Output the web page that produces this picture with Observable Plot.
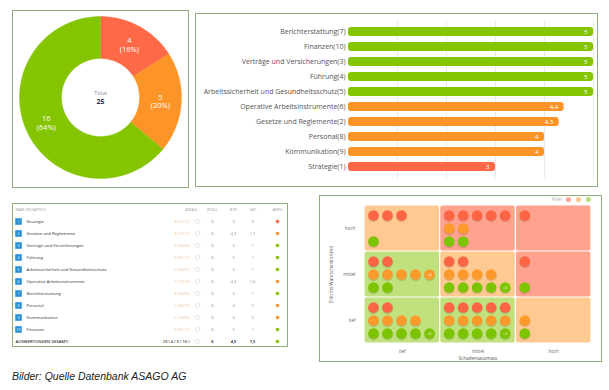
<!DOCTYPE html>
<html><head><meta charset="utf-8">
<script src="https://cdn.jsdelivr.net/npm/d3@7"></script>
<script src="https://cdn.jsdelivr.net/npm/@observablehq/plot@0.6"></script>
<style>
body{margin:0;background:#fff;}
#root{position:relative;width:609px;height:390px;overflow:hidden;font-family:"Open Sans",sans-serif;background:#fff;}
.panel{position:absolute;box-sizing:border-box;border:1px solid #8fae78;background:#fff;}
.chart{position:absolute;}
.chart svg{display:block;}
#caption{position:absolute;left:12px;top:370px;font:italic 10.5px "Liberation Sans",Arial,sans-serif;color:#222;white-space:nowrap;}
</style></head><body><div id="root"></div>
<script>
// ---------- DATA ----------
// Donut (Ampel-Verteilung)
const donutLabels = ["rot", "orange", "grün"];
const donutValues = [4, 5, 16];
const donutColors = ["#fe6a48", "#fd9427", "#84c500"];
const donutCenterTitle = "Total";

// Balken (Ø IST je Kapitel)
const barLabels = ["Berichterstattung(7)", "Finanzen(10)", "Verträge und Versicherungen(3)", "Führung(4)",
  "Arbeitssicherheit und Gesundheitsschutz(5)", "Operative Arbeitsinstrumente(6)", "Gesetze und Reglemente(2)",
  "Personal(8)", "Kommunikation(9)", "Strategie(1)"];
const barValues = [5, 5, 5, 5, 5, 4.4, 4.3, 4, 4, 3];
const barStatus = ["grün", "grün", "grün", "grün", "grün", "orange", "orange", "orange", "orange", "rot"];
const barGridTicks = [1, 2, 3, 4, 5];

// Tabelle
const tableHeaders = ["NAME DES KAPITELS", "ANZAHL", "Ø SOLL", "Ø IST", "GAP", "AMPEL"];
const chapters = ["Strategie", "Gesetze und Reglemente", "Verträge und Versicherungen", "Führung",
  "Arbeitssicherheit und Gesundheitsschutz", "Operative Arbeitsinstrumente", "Berichterstattung",
  "Personal", "Kommunikation", "Finanzen"];
const anzahl = [3, 3, 2, 2, 1, 7, 3, 1, 1, 2];
const anzahlRot = [1, 1, 0, 0, 0, 1, 0, 0, 1, 0];
const anzahlOrange = [1, 1, 0, 1, 0, 1, 0, 0, 0, 1];
const anzahlGruen = [1, 1, 2, 1, 1, 5, 3, 1, 0, 1];
const soll = [6, 6, 6, 6, 6, 6, 6, 6, 6, 6];
const ist = [3, 4.3, 5, 5, 5, 4.4, 5, 4, 4, 5];
const gap = [3, 1.7, 1, 1, 1, 1.6, 1, 2, 2, 1];
const ampel = ["rot", "orange", "grün", "grün", "grün", "orange", "grün", "orange", "orange", "grün"];
const totalLabel = "AUSWERTUNGEN GESAMT:";
const totalAmpel = "grün";

// Risikomatrix
const impactLevels = ["tief", "mittel", "hoch"];        // Schadensausmass (x)
const likelihoodLevels = ["tief", "mittel", "hoch"];    // Eintritts-Wahrscheinlichkeit (y, unten -> oben)
const cellRisk = [   // [Wahrscheinlichkeit][Schaden]
  ["tief", "tief", "mittel"],
  ["tief", "mittel", "hoch"],
  ["mittel", "hoch", "hoch"]];
const riskRed = [[2, 5, 0], [2, 2, 1], [3, 5, 1]];
const riskOrange = [[4, 5, 1], [8, 4, 0], [0, 2, 0]];
const riskGreen = [[9, 9, 1], [2, 9, 1], [1, 2, 0]];
const matrixXTitle = "Schadensausmass";
const matrixYTitle = "Eintritts-Wahrscheinlichkeit";
const filterLabel = "Filter";

const caption = "Bilder: Quelle Datenbank ASAGO AG";

// ---------- STYLE ----------
const statusColor = {"rot": "#fe6846", "orange": "#fd9427", "grün": "#84c500"};
const dotColor = {"rot": "#fd6544", "orange": "#fc9a2c", "grün": "#7cc400"};
const fadedColor = {"rot": "#f9a998", "orange": "#fcca93", "grün": "#bde083"};
const cellColor = {"tief": "#c0e17e", "mittel": "#ffc992", "hoch": "#ffa28e"};
const FONT = "Open Sans";
const fmt = v => String(Math.round(v * 10) / 10).replace(".", ",");

const root = document.getElementById("root");
function panel(l, t, w, h) {
  const d = document.createElement("div");
  d.className = "panel";
  Object.assign(d.style, {left: l + "px", top: t + "px", width: w + "px", height: h + "px"});
  root.appendChild(d);
}
function place(svg, l, t) {
  const d = document.createElement("div");
  d.className = "chart";
  d.style.left = l + "px"; d.style.top = t + "px";
  d.appendChild(svg);
  root.appendChild(d);
}

panel(12, 10, 177, 178);
panel(195, 13, 403, 174);
panel(12, 203, 276, 144);
panel(319, 195, 283, 167);

// ---------- DONUT ----------
{
  const total = d3.sum(donutValues);
  let acc = 0;
  const slices = donutValues.map((v, i) => {
    const a0 = acc / total * 2 * Math.PI; acc += v;
    const a1 = acc / total * 2 * Math.PI;
    return {i, v, a0, a1, color: donutColors[i], pct: Math.round(v / total * 100)};
  });
  const R0 = 39, R1 = 81, RL = 60;
  const ring = slices.flatMap(s => {
    const n = Math.max(10, Math.ceil((s.a1 - s.a0) * 40));
    const angles = d3.range(n + 1).map(k => s.a0 + (s.a1 - s.a0) * k / n);
    const outer = angles.map(a => ({s: s.i, x: R1 * Math.sin(a), y: R1 * Math.cos(a), color: s.color}));
    const inner = angles.slice().reverse().map(a => ({s: s.i, x: R0 * Math.sin(a), y: R0 * Math.cos(a), color: s.color}));
    return [...outer, ...inner];
  });
  const labels = slices.map(s => {
    const a = (s.a0 + s.a1) / 2;
    return {x: RL * Math.sin(a), y: RL * Math.cos(a), t: `${s.v}\n(${s.pct}%)`};
  });
  const svg = Plot.plot({
    width: 177, height: 178, margin: 0,
    style: {background: "transparent", fontFamily: FONT},
    x: {domain: [-88, 89], axis: null},
    y: {domain: [-91, 87], axis: null},
    color: {type: "identity"},
    marks: [
      Plot.line(ring, {x: "x", y: "y", z: "s", fill: "color", stroke: "color", strokeWidth: 0.4, curve: "linear-closed"}),
      Plot.text(labels, {x: "x", y: "y", text: "t", fill: "white", fontSize: 7.5, lineHeight: 1.15}),
      Plot.text([{x: 0, y: 0}], {x: "x", y: "y", text: () => donutCenterTitle, dy: -4, fill: "#8a8f9a", fontSize: 5.5}),
      Plot.text([{x: 0, y: 0}], {x: "x", y: "y", text: () => String(total), dy: 4.5, fill: "#2a3250", fontSize: 7, fontWeight: 700})
    ]
  });
  place(svg, 12, 10);
}

// ---------- BARS ----------
{
  const data = barLabels.map((label, i) => ({label, value: barValues[i], color: statusColor[barStatus[i]]}));
  const svg = Plot.plot({
    width: 403, height: 174, marginLeft: 153, marginRight: 5, marginTop: 7.4, marginBottom: 8.6,
    style: {background: "transparent", fontFamily: FONT},
    x: {domain: [0, 5], axis: null},
    y: {domain: barLabels, axis: null, padding: 0.4},
    color: {type: "identity"},
    marks: [
      Plot.ruleX(barGridTicks, {stroke: "#e6e6e6", strokeWidth: 0.8}),
      Plot.barX(data, {x: "value", y: "label", fill: "color", rx: 3}),
      Plot.text(data, {x: 0, y: "label", text: "label", textAnchor: "end", dx: -3, fill: "#555", fontSize: 7}),
      Plot.text(data, {x: "value", y: "label", text: d => fmt(d.value), textAnchor: "end", dx: -6, fill: "white", fontSize: 6})
    ]
  });
  place(svg, 195, 13);
}

// ---------- TABLE ----------
{
  const COL = {num: 6, name: 14, anz: 177, clock: 182, soll: 200, ist: 221, gap: 240, ampel: 265, head0: 3};
  const keys = ["head", ...chapters.map((c, i) => String(i + 1)), "total"];
  const rows = chapters.map((c, i) => ({
    key: String(i + 1), num: String(i + 1), name: c,
    anz: `${anzahl[i]} (${anzahlRot[i]}/${anzahlOrange[i]}/${anzahlGruen[i]})`,
    soll: fmt(soll[i]), ist: fmt(ist[i]), gap: fmt(gap[i]), color: statusColor[ampel[i]]
  }));
  const headX = [COL.head0, COL.anz + 2, COL.soll, COL.ist, COL.gap, COL.ampel];
  const heads = tableHeaders.map((h, i) => ({h, x: headX[i]}));
  const avgSoll = d3.mean(soll), avgIst = d3.mean(ist);
  const tot = {key: "total",
    anz: `${d3.sum(anzahl)} ( ${d3.sum(anzahlRot)} / ${d3.sum(anzahlOrange)} / ${d3.sum(anzahlGruen)} )`,
    soll: fmt(avgSoll), ist: fmt(avgIst), gap: fmt(avgSoll - avgIst), color: statusColor[totalAmpel]};
  const svg = Plot.plot({
    width: 276, height: 144, marginLeft: 0, marginRight: 0, marginTop: 5, marginBottom: 6,
    style: {background: "transparent", fontFamily: FONT},
    x: {domain: [0, 276], axis: null},
    y: {type: "point", domain: keys, axis: null, padding: 0},
    color: {type: "identity"},
    marks: [
      Plot.text(heads.slice(0, 1), {x: "x", y: () => "head", text: "h", textAnchor: "start", fill: "#9a9a9a", fontSize: 3.2}),
      Plot.text(heads.slice(1), {x: "x", y: () => "head", text: "h", textAnchor: "middle", fill: "#9a9a9a", fontSize: 3.2}),
      Plot.dot(rows, {x: () => COL.num, y: "key", symbol: "square", r: 3.7, fill: "#2c8fd6"}),
      Plot.text(rows, {x: () => COL.num, y: "key", text: "num", fill: "white", fontSize: 3.3}),
      Plot.text(rows, {x: () => COL.name, y: "key", text: "name", textAnchor: "start", fill: "#333", fontSize: 4.2}),
      Plot.text(rows, {x: () => COL.anz, y: "key", text: "anz", textAnchor: "end", fill: "#ecb98a", fontSize: 4}),
      Plot.dot([...rows, tot], {x: () => COL.clock + 3, y: "key", r: 2.1, fill: "none", stroke: "#c8c8c8", strokeWidth: 0.5}),
      Plot.text(rows, {x: () => COL.soll, y: "key", text: "soll", fill: "#888", fontSize: 3.8}),
      Plot.text(rows, {x: () => COL.ist, y: "key", text: "ist", fill: "#888", fontSize: 3.8}),
      Plot.text(rows, {x: () => COL.gap, y: "key", text: "gap", fill: "#888", fontSize: 3.8}),
      Plot.dot([...rows, tot], {x: () => COL.ampel, y: "key", r: 1.8, fill: "color"}),
      Plot.text([tot], {x: () => COL.head0, y: "key", text: () => totalLabel, textAnchor: "start", fill: "#333", fontSize: 4.2, fontWeight: 600}),
      Plot.text([tot], {x: () => COL.anz, y: "key", text: "anz", textAnchor: "end", fill: "#444", fontSize: 4, fontWeight: 600}),
      Plot.text([tot], {x: () => COL.soll, y: "key", text: "soll", fill: "#333", fontSize: 4, fontWeight: 700}),
      Plot.text([tot], {x: () => COL.ist, y: "key", text: "ist", fill: "#333", fontSize: 4, fontWeight: 700}),
      Plot.text([tot], {x: () => COL.gap, y: "key", text: "gap", fill: "#333", fontSize: 4, fontWeight: 700})
    ]
  });
  place(svg, 12, 203);
}

// ---------- RISK MATRIX ----------
{
  const W = 283, H = 167, mL = 45, mR = 11, mT = 10, mB = 19;
  const cellW = (W - mL - mR) / 3, cellH = (H - mT - mB) / 3;
  const cells = [], dots = [], badges = [];
  const rowOff = {"rot": 10, "orange": 23, "grün": 36};
  likelihoodLevels.forEach((ly, j) => impactLevels.forEach((ix, i) => {
    cells.push({i, j, fill: cellColor[cellRisk[j][i]]});
    [["rot", riskRed], ["orange", riskOrange], ["grün", riskGreen]].forEach(([c, arr]) => {
      const n = arr[j][i];
      const shown = n > 5 ? 4 : n;
      const y = j + 1 - rowOff[c] / cellH;
      for (let k = 0; k < shown; k++) dots.push({x: i + (9 + 14 * k) / cellW, y, fill: dotColor[c]});
      if (n > 5) {
        const b = {x: i + (9 + 14 * 4) / cellW, y, fill: dotColor[c], t: "+" + (n - 4)};
        dots.push(b); badges.push(b);
      }
    });
  }));
  const legend = ["rot", "orange", "grün"].map((c, k) => ({x: 3 - (3 + 10 * (2 - k)) / cellW, y: 3 + 6 / cellH, fill: fadedColor[c]}));
  const svg = Plot.plot({
    width: W, height: H, marginLeft: mL, marginRight: mR, marginTop: mT, marginBottom: mB,
    style: {background: "transparent", fontFamily: FONT, overflow: "visible"},
    x: {domain: [0, 3], axis: null},
    y: {domain: [0, 3], axis: null},
    color: {type: "identity"},
    marks: [
      Plot.rect(cells, {x1: "i", x2: d => d.i + 1, y1: "j", y2: d => d.j + 1, fill: "fill", inset: 0.6, rx: 2}),
      Plot.dot(dots, {x: "x", y: "y", r: 5.5, fill: "#000", fillOpacity: 0.13, dy: 1.2}),
      Plot.dot(dots, {x: "x", y: "y", r: 5.3, fill: "fill"}),
      Plot.text(badges, {x: "x", y: "y", text: "t", fill: "white", fontSize: 3.6}),
      Plot.text(likelihoodLevels.map((l, j) => ({l, y: j + 0.5})), {x: () => 0, y: "y", text: "l", textAnchor: "end", dx: -9, fill: "#666", fontSize: 4.5}),
      Plot.text(impactLevels.map((l, i) => ({l, x: i + 0.5})), {x: "x", y: () => 0, text: "l", dy: 8, fill: "#666", fontSize: 4.5}),
      Plot.text([matrixYTitle], {x: () => 0, y: () => 1.5, text: d => d, rotate: -90, dx: -33, fill: "#555", fontSize: 4.5}),
      Plot.text([matrixXTitle], {x: () => 1.5, y: () => 0, text: d => d, dy: 15, fill: "#555", fontSize: 4.5}),
      Plot.dot(legend, {x: "x", y: "y", r: 2.6, fill: "fill"}),
      Plot.text([filterLabel], {x: () => legend[0].x, y: () => legend[0].y, text: d => d, textAnchor: "end", dx: -6, fill: "#aaa", fontSize: 4.5})
    ]
  });
  place(svg, 319, 195);
}

// ---------- CAPTION ----------
const cap = document.createElement("div");
cap.id = "caption";
cap.textContent = caption;
root.appendChild(cap);
</script></body></html>
